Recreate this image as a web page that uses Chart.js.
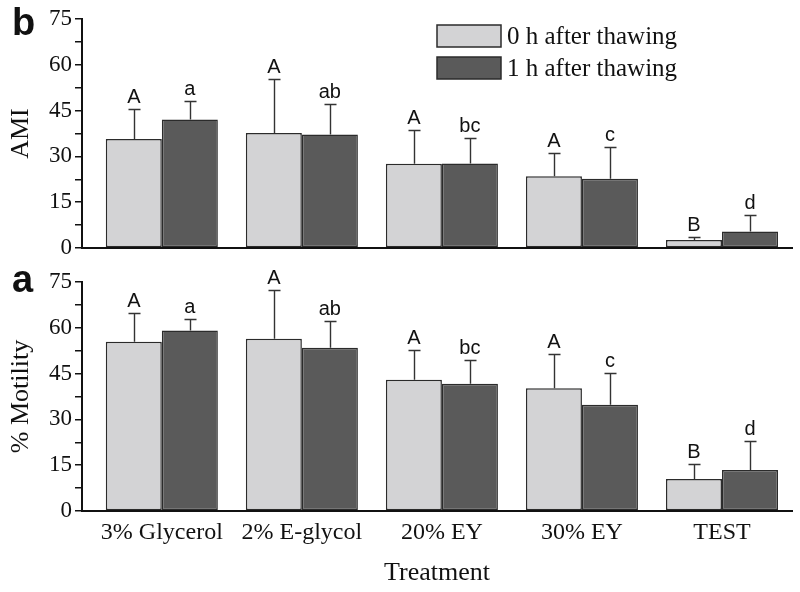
<!DOCTYPE html>
<html>
<head>
<meta charset="utf-8">
<script src="https://cdn.jsdelivr.net/npm/chart.js@4"></script>
<style>
  html, body { margin: 0; padding: 0; background: #fff; }
  #wrap { position: relative; width: 800px; height: 592px; }
  canvas { position: absolute; left: 0; }
</style>
</head>
<body>
<div id="wrap">
  <canvas id="amiChart" width="800" height="268" style="top:0"></canvas>
  <canvas id="motChart" width="800" height="332" style="top:260px"></canvas>
</div>
<script>
const treatments = ['3% Glycerol', '2% E-glycol', '20% EY', '30% EY', 'TEST'];
const seriesNames = ['0 h after thawing', '1 h after thawing'];
const yTicks = [0, 15, 30, 45, 60, 75];

// AMI (panel b)
const ami0h = [35.7, 37.7, 27.6, 23.5, 2.6];
const ami0hSD = [9.9, 17.5, 11.0, 7.5, 1.0];
const ami1h = [42.1, 37.2, 27.7, 22.7, 5.4];
const ami1hSD = [5.9, 9.8, 8.3, 10.3, 5.3];

// % Motility (panel a)
const mot0h = [55.4, 56.4, 43.0, 40.2, 10.5];
const mot0hSD = [9.4, 16.1, 9.7, 11.2, 5.0];
const mot1h = [59.1, 53.5, 41.7, 34.8, 13.4];
const mot1hSD = [3.8, 8.7, 7.8, 10.4, 9.6];

const letters0h = ['A', 'A', 'A', 'A', 'B'];
const letters1h = ['a', 'ab', 'bc', 'c', 'd'];

const colors = ['#d3d3d5', '#5a5a5a'];
const serif = '"Liberation Serif", "Times New Roman", serif';
const sans = '"Liberation Sans", Arial, sans-serif';

const annotate = {
  id: 'annotate',
  afterDatasetsDraw(chart, args, opts) {
    const ctx = chart.ctx, y = chart.scales.y;
    chart.data.datasets.forEach((ds, di) => {
      chart.getDatasetMeta(di).data.forEach((bar, i) => {
        const top = Math.round(y.getPixelForValue(ds.data[i].y + opts.sd[di][i])) + 0.5;
        const bx = Math.round(bar.x) + 0.5;
        ctx.save();
        ctx.strokeStyle = '#333';
        ctx.lineWidth = 1.4;
        ctx.beginPath();
        ctx.moveTo(bx, bar.y);
        ctx.lineTo(bx, top);
        ctx.moveTo(bx - 6, top);
        ctx.lineTo(bx + 6, top);
        ctx.stroke();
        ctx.fillStyle = '#111';
        ctx.font = '20px ' + sans;
        ctx.textAlign = 'center';
        ctx.textBaseline = 'alphabetic';
        ctx.fillText(opts.letters[di][i], bar.x, top - 7);
        ctx.restore();
      });
    });

    ctx.save();
    ctx.fillStyle = '#111';
    ctx.font = 'bold 38px ' + sans;
    ctx.textAlign = 'left';
    ctx.textBaseline = 'alphabetic';
    ctx.fillText(opts.panel, 12, opts.panelY);

    if (opts.legend) {
      chart.data.datasets.forEach((ds, di) => {
        const by = 25 + di * 32;
        ctx.fillStyle = ds.backgroundColor;
        ctx.fillRect(437, by, 64, 22);
        ctx.strokeStyle = '#2b2b2b';
        ctx.lineWidth = 1.5;
        ctx.strokeRect(437, by, 64, 22);
        ctx.fillStyle = '#111';
        ctx.font = '25px ' + serif;
        ctx.textBaseline = 'middle';
        ctx.fillText(ds.label, 507, by + 12);
      });
    }
    ctx.restore();
  }
};

function makePanel(id, values, sds, opts) {
  const ctx = document.getElementById(id).getContext('2d');
  return new Chart(ctx, {
    type: 'bar',
    data: {
      datasets: values.map((vals, di) => ({
        label: seriesNames[di],
        data: vals.map((v, i) => ({ x: i, y: v })),
        backgroundColor: colors[di],
        borderColor: '#2b2b2b',
        borderWidth: 1.5,
        borderSkipped: false,
        categoryPercentage: 0.8,
        barPercentage: 1.0
      }))
    },
    options: {
      responsive: false,
      animation: false,
      layout: { padding: { left: 0, right: 8, top: opts.top, bottom: 0 } },
      plugins: {
        legend: { display: false },
        tooltip: { enabled: false },
        annotate: { sd: sds, letters: [letters0h, letters1h], panel: opts.panel, panelY: opts.panelY, legend: opts.legend }
      },
      scales: {
        x: {
          type: 'linear',
          offset: false,
          min: -0.57,
          max: 4.5,
          z: 1,
          afterBuildTicks: s => { s.ticks = treatments.map((t, i) => ({ value: i })); },
          afterFit: s => { s.height = opts.xHeight; },
          grid: { display: false, drawTicks: false },
          border: { display: true, color: '#111', width: 2 },
          ticks: {
            display: opts.showLabels,
            autoSkip: false,
            maxRotation: 0,
            padding: 7,
            color: '#111',
            font: { family: serif, size: 24 },
            callback: v => treatments[v]
          },
          title: {
            display: opts.showLabels,
            text: 'Treatment',
            color: '#111',
            font: { family: serif, size: 26 },
            padding: { top: 0, bottom: 3 }
          }
        },
        y: {
          min: yTicks[0],
          max: yTicks[yTicks.length - 1],
          z: 1,
          afterFit: s => { s.width = 82; },
          grid: { display: true, drawOnChartArea: false, drawTicks: true, tickLength: 7, color: '#111', lineWidth: 1.5 },
          border: { display: true, color: '#111', width: 2 },
          ticks: {
            stepSize: (yTicks[1] - yTicks[0]) / 2,
            autoSkip: false,
            padding: 3,
            color: '#111',
            font: { family: serif, size: 23, lineHeight: 1 },
            callback: v => (yTicks.includes(v) ? String(v) : '')
          },
          title: {
            display: true,
            text: opts.yTitle,
            color: '#111',
            font: { family: serif, size: 26 },
            padding: { top: 6, bottom: 0 }
          }
        }
      }
    },
    plugins: [annotate]
  });
}

makePanel('amiChart', [ami0h, ami1h], [ami0hSD, ami1hSD],
  { top: 19, xHeight: 20, showLabels: false, yTitle: 'AMI', panel: 'b', panelY: 35, legend: true });
makePanel('motChart', [mot0h, mot1h], [mot0hSD, mot1hSD],
  { top: 22, xHeight: 81, showLabels: true, yTitle: '% Motility', panel: 'a', panelY: 32, legend: false });
</script>
</body>
</html>
